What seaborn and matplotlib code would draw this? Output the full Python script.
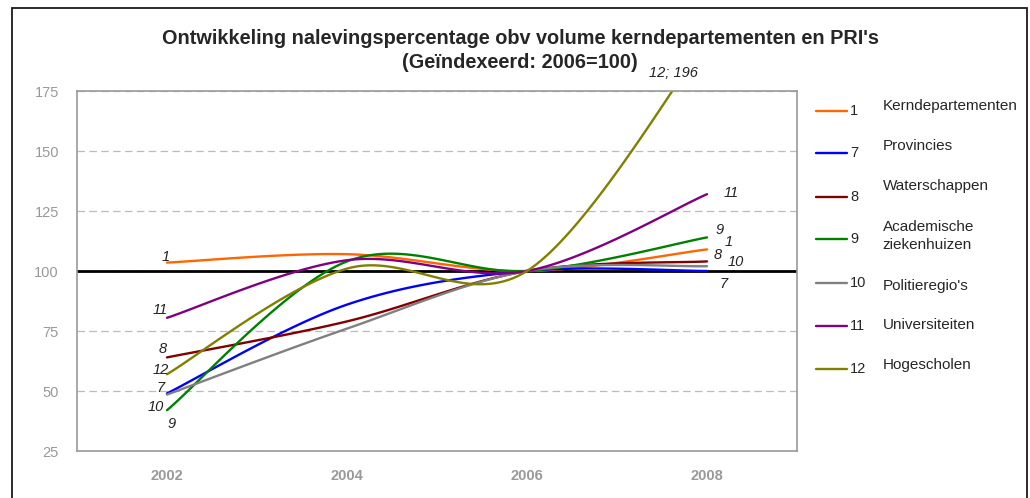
import numpy as np
import pandas as pd
import seaborn as sns
import matplotlib.pyplot as plt
from matplotlib.lines import Line2D
from matplotlib.patches import Rectangle

# data (index 2006 = 100)
years = ['2002', '2004', '2006', '2008']
series_ids = ['1', '7', '8', '9', '10', '11', '12']
series_names = ['Kerndepartementen', 'Provincies', 'Waterschappen',
                'Academische\nziekenhuizen', "Politieregio's", 'Universiteiten',
                'Hogescholen']
kerndepartementen = [103.5, 107, 100, 109]
provincies = [49, 86, 100, 100]
waterschappen = [64, 79, 100, 104]
academische_ziekenhuizen = [42, 104, 100, 114]
politieregios = [48.5, 76, 100, 102]
universiteiten = [80.5, 104.5, 100, 132]
hogescholen = [57, 101, 100, 196]

values = [kerndepartementen, provincies, waterschappen, academische_ziekenhuizen,
          politieregios, universiteiten, hogescholen]
colors = ['#FF6600', '#0000FF', '#800000', '#008000', '#808080', '#800080', '#808000']

# label offsets in pixels (dx, dy) for start / end value labels
start_off = {'1': (-1.5, 6), '7': (-6, 5), '8': (-4, 8), '9': (5, -13.5),
             '10': (-11.5, -12.5), '11': (-6.5, 8), '12': (-6.5, 4)}
end_off = {'1': (22, 7), '7': (17, -12.5), '8': (10.7, 6), '9': (13, 7.5),
           '10': (28.7, 4.5), '11': (24, 1)}


def smooth(vals, n=40):
    # excel style smoothed line (bezier through the points)
    x = np.arange(len(vals), dtype=float)
    y = np.asarray(vals, dtype=float)
    xs, ys = [], []
    for i in range(len(vals) - 1):
        i0, i3 = max(i - 1, 0), min(i + 2, len(vals) - 1)
        c1x = x[i] + (x[i + 1] - x[i0]) / 6
        c1y = y[i] + (y[i + 1] - y[i0]) / 6
        c2x = x[i + 1] - (x[i3] - x[i]) / 6
        c2y = y[i + 1] - (y[i3] - y[i]) / 6
        t = np.linspace(0, 1, n)
        a, b, c, d = (1 - t) ** 3, 3 * (1 - t) ** 2 * t, 3 * (1 - t) * t ** 2, t ** 3
        xs.extend(a * x[i] + b * c1x + c * c2x + d * x[i + 1])
        ys.extend(a * y[i] + b * c1y + c * c2y + d * y[i + 1])
    return xs, ys


rows = []
for sid, vals in zip(series_ids, values):
    xs, ys = smooth(vals)
    rows.append(pd.DataFrame({'x': xs, 'waarde': ys, 'reeks': sid}))
df = pd.concat(rows, ignore_index=True)

sns.set_style('white')
plt.rcParams['font.family'] = ['Liberation Sans', 'DejaVu Sans']

fig = plt.figure(figsize=(10.3, 4.98), dpi=100)
ax = fig.add_axes([77 / 1030, 1 - 451 / 498, 720 / 1030, 360 / 498])

sns.lineplot(data=df, x='x', y='waarde', hue='reeks', palette=dict(zip(series_ids, colors)),
             sort=False, estimator=None, legend=False, linewidth=1.7, ax=ax)
ax.axhline(100, color='black', lw=2.0, zorder=1)

ax.set_xlim(-0.5, 3.5)
ax.set_ylim(25, 175)
ax.set_yticks(range(25, 176, 25))
ax.set_xticks(range(len(years)))
ax.set_xticklabels(years, fontweight='bold')
ax.set_xlabel('')
ax.set_ylabel('')
ax.tick_params(axis='y', length=5, color='#999999', labelcolor='#999999', labelsize=10.5, pad=8)
ax.tick_params(axis='x', length=0, labelcolor='#999999', labelsize=10.5, pad=13)
ax.yaxis.grid(True, linestyle=(0, (6, 3.5)), color='#bbbbbb', lw=0.9)
ax.set_axisbelow(True)
for sp in ax.spines.values():
    sp.set_color('#999999')
    sp.set_linewidth(1.2)

# value labels
px = 0.72
for sid, vals in zip(series_ids, values):
    dx, dy = start_off[sid]
    ax.annotate(sid, (0, vals[0]), xytext=(dx * px, dy * px), textcoords='offset points',
                ha='center', va='center', style='italic', fontsize=10.5, color='#222222')
    if sid in end_off:
        dx, dy = end_off[sid]
        ax.annotate(sid, (3, vals[3]), xytext=(dx * px, dy * px), textcoords='offset points',
                    ha='center', va='center', style='italic', fontsize=10.5, color='#222222')
ax.annotate(f'12; {hogescholen[3]:g}', (3, 1), xycoords=('data', 'axes fraction'),
            xytext=(-33.5 * px, 18 * px), textcoords='offset points', ha='center', va='center',
            style='italic', fontsize=10.5, color='#222222', annotation_clip=False)

fig.text(520 / 1030, 1 - 38 / 498, 'Ontwikkeling nalevingspercentage obv volume kerndepartementen en PRI\'s',
         ha='center', va='center', fontsize=14.3, fontweight='bold')
fig.text(520 / 1030, 1 - 62 / 498, '(Geïndexeerd: 2006=100)',
         ha='center', va='center', fontsize=14.3, fontweight='bold')

# legend
leg_line_y = [111, 152.7, 196.7, 239.3, 282.7, 325.7, 368.7]
leg_name_y = [106, 146, 186, 236, 286, 325, 365]
for sid, name, col, ly, ny in zip(series_ids, series_names, colors, leg_line_y, leg_name_y):
    fig.add_artist(Line2D([815.7 / 1030, 846.7 / 1030], [1 - ly / 498, 1 - ly / 498],
                          color=col, lw=1.7))
    fig.text(850 / 1030, 1 - ly / 498, sid, ha='left', va='center', fontsize=10.5)
    fig.text(882.5 / 1030, 1 - ny / 498, name, ha='left', va='center', fontsize=11,
             linespacing=1.3)

fig.add_artist(Rectangle((12 / 1030, -0.05), 1015 / 1030, 1.05 - 8 / 498,
                         transform=fig.transFigure, fill=False, ec='#1a1a1a', lw=1.3))

fig.savefig('out.png', dpi=100)
